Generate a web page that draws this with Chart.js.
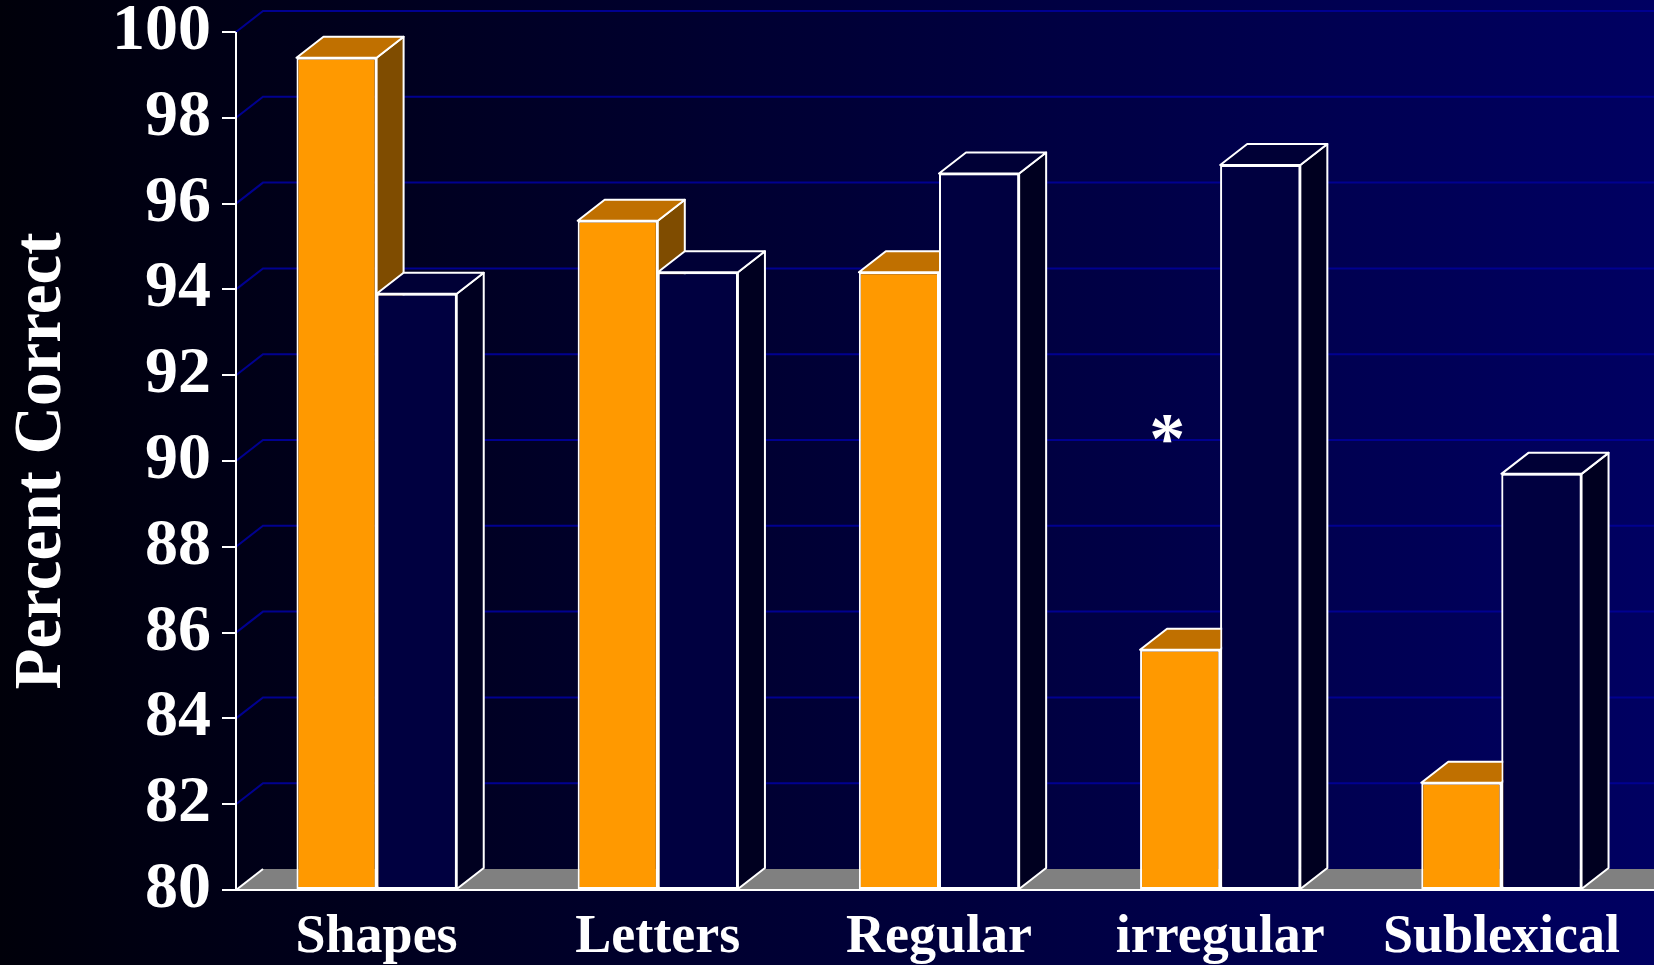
<!DOCTYPE html>
<html>
<head>
<meta charset="utf-8">
<title>Percent Correct</title>
<script src="https://cdn.jsdelivr.net/npm/chart.js@4.4.1/dist/chart.umd.min.js"></script>
<style>
  html, body { margin: 0; padding: 0; background: #000010; overflow: hidden; }
  #wrap { width: 1654px; height: 965px; }
</style>
</head>
<body>
<div id="wrap"><canvas id="chart" width="1654" height="965"></canvas></div>
<script>
// values
const categories = ['Shapes', 'Letters', 'Regular', 'irregular', 'Sublexical'];
const orangeValues = [99.4, 95.6, 94.4, 85.6, 82.5];
const navyValues = [93.9, 94.4, 96.7, 96.9, 89.7];
const yTicks = [80, 82, 84, 86, 88, 90, 92, 94, 96, 98, 100];
const markCategory = 'irregular';
const markValue = 90.8;

const SERIF = "'Liberation Serif', 'Times New Roman', serif";
const DX = 27, DY = 21; // depth of the fake 3d

function poly(ctx, pts, fill) {
  ctx.beginPath();
  ctx.moveTo(pts[0][0], pts[0][1]);
  for (let i = 1; i < pts.length; i++) ctx.lineTo(pts[i][0], pts[i][1]);
  ctx.closePath();
  ctx.fillStyle = fill;
  ctx.fill();
  ctx.strokeStyle = '#ffffff';
  ctx.lineWidth = 2;
  ctx.lineJoin = 'round';
  ctx.stroke();
}

function drawFaces(ctx, bar, ds) {
  const { x, y, base, width } = bar.getProps(['x', 'y', 'base', 'width'], true);
  const l = x - width / 2, r = x + width / 2;
  poly(ctx, [[r, base], [r + DX, base - DY], [r + DX, y - DY], [r, y]], ds.sideColor);
  poly(ctx, [[l, y], [l + DX, y - DY], [r + DX, y - DY], [r, y]], ds.topColor);
}

const box3d = {
  id: 'box3d',
  beforeDraw(chart) {
    const { ctx, width, height } = chart;
    const g = ctx.createLinearGradient(0, 0, width, 0);
    g.addColorStop(0, '#00000a');
    g.addColorStop(1, '#000062');
    ctx.save();
    ctx.fillStyle = g;
    ctx.fillRect(0, 0, width, height);
    ctx.restore();
  },
  beforeDatasetsDraw(chart) {
    const { ctx, chartArea: a, width, scales: { y } } = chart;
    const base = y.getPixelForValue(y.min);
    ctx.save();
    // back wall
    ctx.strokeStyle = '#000090';
    ctx.lineWidth = 2;
    y.ticks.forEach(t => {
      if (t.value === y.min) return;
      const py = y.getPixelForValue(t.value);
      ctx.beginPath();
      ctx.moveTo(a.left, py);
      ctx.lineTo(a.left + DX, py - DY);
      ctx.lineTo(width, py - DY);
      ctx.stroke();
    });
    // floor
    ctx.beginPath();
    ctx.moveTo(a.left, base);
    ctx.lineTo(a.left + DX, base - DY);
    ctx.lineTo(width, base - DY);
    ctx.lineTo(width, base);
    ctx.closePath();
    ctx.fillStyle = '#808080';
    ctx.fill();
    ctx.strokeStyle = '#ffffff';
    ctx.beginPath();
    ctx.moveTo(a.left, base);
    ctx.lineTo(a.left + DX, base - DY);
    ctx.stroke();
    ctx.restore();
  },
  afterDatasetsDraw(chart) {
    const { ctx, chartArea: a, width, scales: { x, y } } = chart;
    const base = y.getPixelForValue(y.min);
    const front = chart.getDatasetMeta(0), back = chart.getDatasetMeta(1);
    const ds0 = chart.data.datasets[0], ds1 = chart.data.datasets[1];
    ctx.save();
    // orange box first, then the navy box in front of its side
    front.data.forEach((bar, i) => {
      drawFaces(ctx, bar, ds0);
      back.data[i].draw(ctx);
      drawFaces(ctx, back.data[i], ds1);
    });
    ctx.strokeStyle = '#ffffff';
    ctx.lineWidth = 2;
    ctx.beginPath();
    ctx.moveTo(a.left, y.getPixelForValue(y.max));
    ctx.lineTo(a.left, base);
    ctx.lineTo(width, base);
    ctx.stroke();
    // significance mark
    const px = x.getPixelForValue(categories.indexOf(markCategory)) - 53;
    const py = y.getPixelForValue(markValue);
    ctx.fillStyle = '#ffffff';
    ctx.font = 'bold 72px ' + SERIF;
    ctx.textAlign = 'center';
    ctx.textBaseline = 'middle';
    ctx.fillText('*', px, py + 17);
    ctx.restore();
  }
};

new Chart(document.getElementById('chart'), {
  type: 'bar',
  data: {
    labels: categories,
    datasets: [
      {
        label: 'Orange',
        data: orangeValues,
        base: yTicks[0],
        backgroundColor: '#ff9900',
        topColor: '#c07000',
        sideColor: '#7f4c00',
        borderColor: '#ffffff',
        borderWidth: 2,
        borderSkipped: false,
      },
      {
        label: 'Navy',
        data: navyValues,
        base: yTicks[0],
        backgroundColor: '#000040',
        topColor: '#000036',
        sideColor: '#000020',
        borderColor: '#ffffff',
        borderWidth: 2,
        borderSkipped: false,
      },
    ],
  },
  options: {
    responsive: false,
    animation: false,
    events: [],
    categoryPercentage: 0.57,
    barPercentage: 1.0,
    layout: { padding: { top: 32, right: 12, bottom: 0, left: 0 } },
    plugins: {
      legend: { display: false },
      tooltip: { enabled: false },
    },
    scales: {
      x: {
        grid: { display: false, drawTicks: false },
        border: { display: false },
        ticks: {
          color: '#ffffff',
          font: { family: SERIF, size: 54, weight: 'bold', lineHeight: 1 },
          padding: 21,
          maxRotation: 0,
          autoSkip: false,
        },
        afterFit(s) { s.height = 75; },
      },
      y: {
        min: yTicks[0],
        max: yTicks[yTicks.length - 1],
        ticks: {
          stepSize: yTicks[1] - yTicks[0],
          color: '#ffffff',
          font: { family: SERIF, size: 66, weight: 'bold', lineHeight: 0.6 },
          padding: 11,
        },
        grid: {
          drawOnChartArea: false,
          drawTicks: true,
          tickLength: 14,
          color: '#ffffff',
          lineWidth: 2,
        },
        border: { color: '#ffffff', width: 2 },
        title: {
          display: true,
          text: 'Percent Correct',
          color: '#ffffff',
          font: { family: SERIF, size: 67, weight: 'bold', lineHeight: 1.2 },
          padding: { top: 2, bottom: 0 },
        },
        afterFit(s) { s.width = 236; },
      },
    },
  },
  plugins: [box3d],
});
</script>
</body>
</html>
